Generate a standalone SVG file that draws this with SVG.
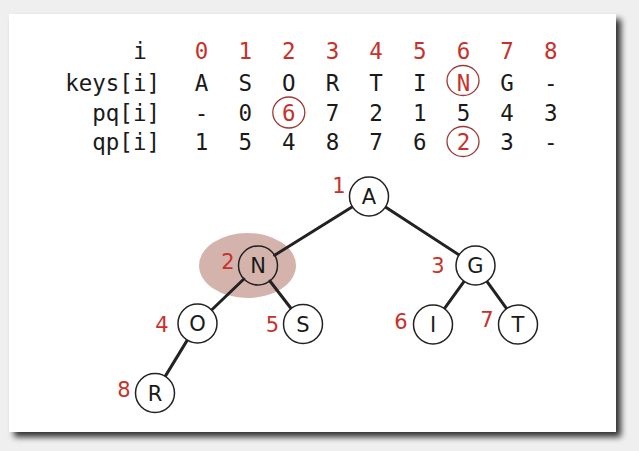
<svg xmlns="http://www.w3.org/2000/svg" width="639" height="451" viewBox="0 0 639 451">
<defs>
<filter id="shadow" x="-5%" y="-5%" width="115%" height="115%">
<feGaussianBlur in="SourceAlpha" stdDeviation="3"/>
<feOffset dx="5" dy="5" result="b"/>
<feComponentTransfer in="b" result="c"><feFuncA type="linear" slope="0.8"/></feComponentTransfer>
<feMerge><feMergeNode in="c"/><feMergeNode in="SourceGraphic"/></feMerge>
</filter>
<style>
.tb{font-family:"DejaVu Sans Mono","Liberation Mono",monospace;font-size:22.5px;fill:#1a1a1a;text-anchor:middle}
.lb{text-anchor:end}
.red{fill:#c8312a}
.mark{fill:none;stroke:#9b3a33;stroke-width:1.3}
.node circle{fill:#fff;stroke:#222;stroke-width:1.5}
.node text{font-family:"DejaVu Sans","Liberation Sans",sans-serif;font-size:21px;fill:#1a1a1a;text-anchor:middle}
.node text.idx{fill:#c8312a;text-anchor:end}
.edges line{stroke:#222;stroke-width:3;stroke-linecap:round}
</style>
</defs>
<rect width="639" height="451" fill="#efefef"/>
<rect x="9" y="14" width="607" height="418" fill="#fff" filter="url(#shadow)"/>

<g id="table">
<text class="tb" x="140" y="59">i</text>
<text class="tb lb" x="160" y="91">keys[i]</text>
<text class="tb lb" x="160" y="120.5">pq[i]</text>
<text class="tb lb" x="160" y="149.5">qp[i]</text>
<text class="tb red" x="201.5" y="59">0</text>
<text class="tb red" x="245.2" y="59">1</text>
<text class="tb red" x="288.8" y="59">2</text>
<text class="tb red" x="332.5" y="59">3</text>
<text class="tb red" x="376.1" y="59">4</text>
<text class="tb red" x="419.8" y="59">5</text>
<text class="tb red" x="463.4" y="59">6</text>
<text class="tb red" x="507.1" y="59">7</text>
<text class="tb red" x="550.7" y="59">8</text>
<text class="tb" x="201.5" y="91">A</text>
<text class="tb" x="245.2" y="91">S</text>
<text class="tb" x="288.8" y="91">O</text>
<text class="tb" x="332.5" y="91">R</text>
<text class="tb" x="376.1" y="91">T</text>
<text class="tb" x="419.8" y="91">I</text>
<text class="tb red" x="463.4" y="91">N</text>
<text class="tb" x="507.1" y="91">G</text>
<text class="tb" x="550.7" y="91">-</text>
<text class="tb" x="201.5" y="120.5">-</text>
<text class="tb" x="245.2" y="120.5">0</text>
<text class="tb red" x="288.8" y="120.5">6</text>
<text class="tb" x="332.5" y="120.5">7</text>
<text class="tb" x="376.1" y="120.5">2</text>
<text class="tb" x="419.8" y="120.5">1</text>
<text class="tb" x="463.4" y="120.5">5</text>
<text class="tb" x="507.1" y="120.5">4</text>
<text class="tb" x="550.7" y="120.5">3</text>
<text class="tb" x="201.5" y="149.5">1</text>
<text class="tb" x="245.2" y="149.5">5</text>
<text class="tb" x="288.8" y="149.5">4</text>
<text class="tb" x="332.5" y="149.5">8</text>
<text class="tb" x="376.1" y="149.5">7</text>
<text class="tb" x="419.8" y="149.5">6</text>
<text class="tb red" x="463.4" y="149.5">2</text>
<text class="tb" x="507.1" y="149.5">3</text>
<text class="tb" x="550.7" y="149.5">-</text>
<ellipse class="mark" cx="463" cy="80.5" rx="16" ry="15"/>
<ellipse class="mark" cx="288.8" cy="112.5" rx="16" ry="15.5"/>
<ellipse class="mark" cx="463" cy="141.5" rx="16" ry="15"/>
</g>

<ellipse id="highlight" cx="247.5" cy="265.5" rx="48.5" ry="32.5" fill="#d5b3ad"/>

<g class="edges" id="edges">
<line x1="352.4" y1="206.8" x2="274.6" y2="255.2"/>
<line x1="385.4" y1="207.1" x2="459.1" y2="254.9"/>
<line x1="243.9" y1="279.0" x2="211.6" y2="310.0"/>
<line x1="269.9" y1="281.0" x2="291.1" y2="308.5"/>
<line x1="464.1" y1="281.3" x2="444.4" y2="308.7"/>
<line x1="486.9" y1="281.3" x2="506.6" y2="308.7"/>
<line x1="187.3" y1="340.1" x2="165.2" y2="376.4"/>
</g>

<g class="node" id="node-A"><circle cx="369" cy="196.5" r="19.5"/><text x="369" y="204">A</text><text class="idx" x="345.5" y="192.5">1</text></g>
<g class="node" id="node-N"><circle cx="258" cy="265.5" r="19.5" style="fill:none"/><text x="258" y="273">N</text><text class="idx" x="234.5" y="268.5">2</text></g>
<g class="node" id="node-G"><circle cx="475.5" cy="265.5" r="19.5"/><text x="475.5" y="273">G</text><text class="idx" x="444.5" y="272.5">3</text></g>
<g class="node" id="node-O"><circle cx="197.5" cy="323.5" r="19.5"/><text x="197.5" y="331">O</text><text class="idx" x="168.5" y="331.5">4</text></g>
<g class="node" id="node-S"><circle cx="303" cy="324" r="19.5"/><text x="303" y="331.5">S</text><text class="idx" x="279" y="331.5">5</text></g>
<g class="node" id="node-I"><circle cx="433" cy="324.5" r="19.5"/><text x="433" y="332">I</text><text class="idx" x="407.5" y="328.5">6</text></g>
<g class="node" id="node-T"><circle cx="518" cy="324.5" r="19.5"/><text x="518" y="332">T</text><text class="idx" x="493.5" y="326.5">7</text></g>
<g class="node" id="node-R"><circle cx="155" cy="393" r="19.5"/><text x="155" y="400.5">R</text><text class="idx" x="130.5" y="396.5">8</text></g>
</svg>
